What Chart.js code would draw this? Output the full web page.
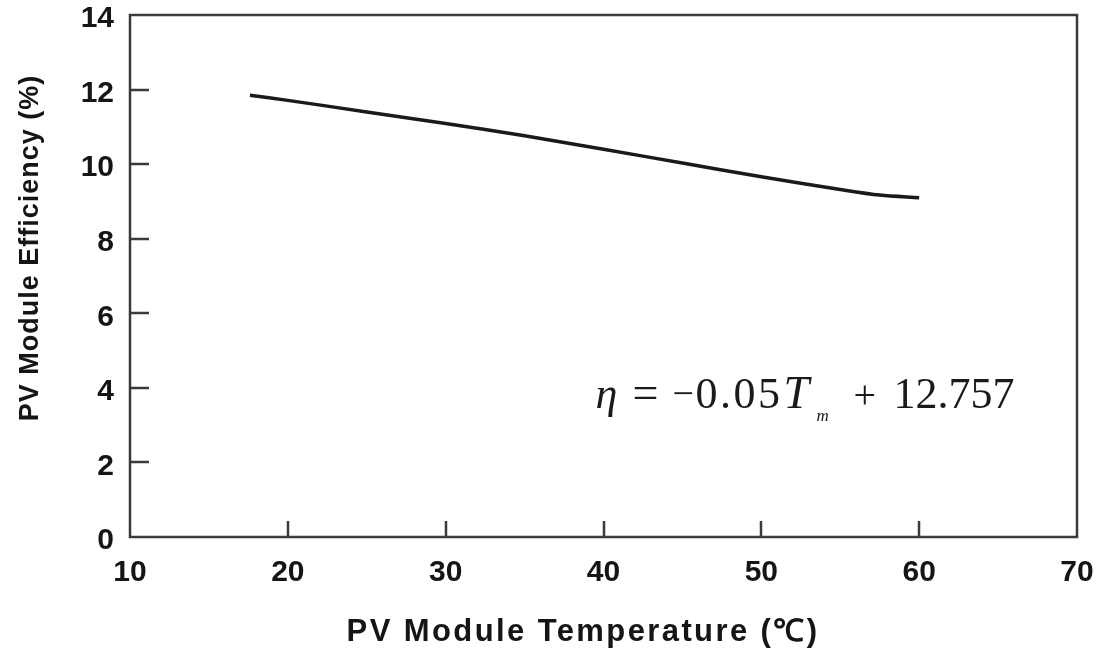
<!DOCTYPE html>
<html>
<head>
<meta charset="utf-8">
<script src="https://cdn.jsdelivr.net/npm/chart.js@4.4.1/dist/chart.umd.min.js"></script>
<style>
  html, body { margin: 0; padding: 0; background: #fff; }
  #wrap { width: 1102px; height: 648px; }
</style>
</head>
<body>
<div id="wrap"><canvas id="pv-chart"></canvas></div>
<script>
// values
const temps = [17.6, 20, 25, 30, 35, 40, 45, 50, 55, 57.5, 60];
const efficiency = [11.85, 11.71, 11.40, 11.09, 10.76, 10.40, 10.03, 9.66, 9.32, 9.17, 9.10];
const xTicks = [10, 20, 30, 40, 50, 60, 70];
const yTicks = [0, 2, 4, 6, 8, 10, 12, 14];
const xTitle = "PV Module Temperature (\u2103)";
const yTitle = "PV Module Efficiency (%)";

const axisColor = "#3a3a3a";
const textColor = "#151515";
const sans = "'Liberation Sans', Arial, sans-serif";
const serif = "'Liberation Serif', 'DejaVu Serif', serif";

const ctx = document.getElementById("pv-chart").getContext("2d");

// box frame, inward tick marks, axis titles and the fitted equation
const framePlugin = {
  id: "frame",
  afterDatasetsDraw(chart) {
    const { ctx, chartArea } = chart;
    const xs = chart.scales.x;
    const ys = chart.scales.y;
    ctx.save();
    ctx.strokeStyle = axisColor;
    ctx.lineWidth = 2.5;
    ctx.strokeRect(chartArea.left, chartArea.top, chartArea.right - chartArea.left, chartArea.bottom - chartArea.top);

    ctx.beginPath();
    xTicks.slice(1, -1).forEach((v) => {
      const px = Math.round(xs.getPixelForValue(v));
      ctx.moveTo(px, chartArea.bottom);
      ctx.lineTo(px, chartArea.bottom - 16);
    });
    yTicks.slice(1, -1).forEach((v) => {
      const py = Math.round(ys.getPixelForValue(v));
      ctx.moveTo(chartArea.left, py);
      ctx.lineTo(chartArea.left + 19, py);
    });
    ctx.stroke();

    // axis titles
    ctx.fillStyle = textColor;
    ctx.textAlign = "center";
    ctx.textBaseline = "alphabetic";
    ctx.font = "bold 31px " + sans;
    ctx.letterSpacing = "2.4px";
    ctx.fillText(xTitle, 583, 641);
    ctx.translate(38, 248);
    ctx.rotate(-Math.PI / 2);
    ctx.font = "bold 27px " + sans;
    ctx.letterSpacing = "1px";
    ctx.fillText(yTitle, 0, 0);
    ctx.setTransform(1, 0, 0, 1, 0, 0);
    ctx.letterSpacing = "0px";

    // η = −0.05 Tm + 12.757
    const x0 = xs.getPixelForValue(39.5);
    const y0 = ys.getPixelForValue(3.47);
    ctx.fillStyle = "#1a1a1a";
    ctx.textAlign = "left";
    const parts = [
      ["η", "italic 44px " + serif, 0, 0, "0px"],
      ["=", "46px " + serif, 37, 0, "0px"],
      ["\u2212", "38px " + serif, 77, -2, "0px"],
      ["0.05", "44px " + serif, 100, 0, "2.5px"],
      ["T", "italic 46px " + serif, 188, 0, "0px"],
      ["m", "italic 17px " + serif, 221, 13, "0px"],
      ["+", "40px " + serif, 258, 0, "0px"],
      ["12.757", "44px " + serif, 298, 0, "0px"],
    ];
    parts.forEach(([txt, font, dx, dy, spacing]) => {
      ctx.font = font;
      ctx.letterSpacing = spacing;
      ctx.fillText(txt, x0 + dx, y0 + dy);
    });
    ctx.restore();
  },
};

new Chart(ctx, {
  type: "line",
  data: {
    datasets: [
      {
        label: "Efficiency",
        data: temps.map((t, i) => ({ x: t, y: efficiency[i] })),
        borderColor: "#1a1a1a",
        borderWidth: 3.5,
        pointRadius: 0,
        tension: 0.3,
        fill: false,
      },
    ],
  },
  options: {
    responsive: true,
    maintainAspectRatio: false,
    animation: false,
    layout: {
      padding: { top: 15, right: 25, left: 0, bottom: 0 },
    },
    plugins: {
      legend: { display: false },
      tooltip: { enabled: false },
    },
    scales: {
      x: {
        type: "linear",
        min: 10,
        max: 70,
        afterBuildTicks: (scale) => {
          scale.ticks = xTicks.map((v) => ({ value: v }));
        },
        afterFit: (scale) => {
          scale.height = 111;
          scale.paddingLeft = 0;
          scale.paddingRight = 0;
        },
        grid: { display: false, drawTicks: false },
        border: { display: false },
        ticks: {
          padding: 18,
          color: textColor,
          font: { family: sans, size: 30, weight: "bold" },
        },
      },
      y: {
        min: 0,
        max: 14,
        afterBuildTicks: (scale) => {
          scale.ticks = yTicks.map((v) => ({ value: v }));
        },
        afterFit: (scale) => {
          scale.width = 130;
          scale.paddingTop = 0;
          scale.paddingBottom = 0;
        },
        grid: { display: false, drawTicks: false },
        border: { display: false },
        ticks: {
          padding: 16,
          labelOffset: 4,
          color: textColor,
          font: { family: sans, size: 30, weight: "bold" },
        },
      },
    },
  },
  plugins: [framePlugin],
});
</script>
</body>
</html>
